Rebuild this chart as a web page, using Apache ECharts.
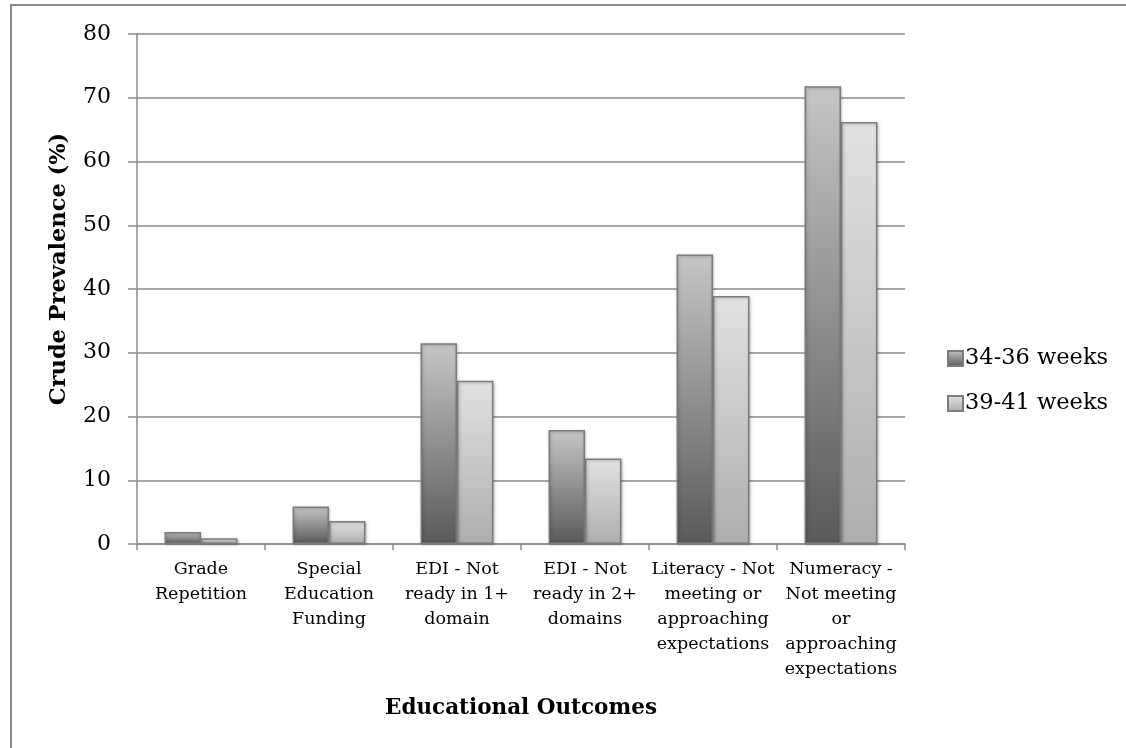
<!DOCTYPE html>
<html>
<head>
<meta charset="utf-8">
<title>Crude Prevalence by Educational Outcome</title>
<script src="https://cdn.jsdelivr.net/npm/echarts@6/dist/echarts.min.js"></script>
<style>
  html, body { margin: 0; padding: 0; background: #ffffff; }
  #chart { width: 1126px; height: 748px; }
</style>
</head>
<body>
<div id="chart"></div>
<script>
// Outcome categories (line breaks as drawn under the axis)
const categories = [
  'Grade\nRepetition',
  'Special\nEducation\nFunding',
  'EDI - Not\nready in 1+\ndomain',
  'EDI - Not\nready in 2+\ndomains',
  'Literacy - Not\nmeeting or\napproaching\nexpectations',
  'Numeracy -\nNot meeting\nor\napproaching\nexpectations'
];

// Crude prevalence (%) per gestational-age group
const seriesNames = ['34-36 weeks', '39-41 weeks'];
const preterm = [1.9, 5.9, 31.5, 17.9, 45.4, 71.8];
const fullTerm = [0.9, 3.6, 25.6, 13.4, 38.9, 66.2];

// Value axis ticks
const yTicks = [0, 10, 20, 30, 40, 50, 60, 70, 80];

const FONT = '"DejaVu Serif", "Liberation Serif", serif';
const GRID_GREY = '#8a8a8a';

function vGradient(top, bottom) {
  return {
    type: 'linear', x: 0, y: 0, x2: 0, y2: 1,
    colorStops: [{ offset: 0, color: top }, { offset: 1, color: bottom }]
  };
}

const chart = echarts.init(document.getElementById('chart'), null, { renderer: 'canvas' });

chart.setOption({
  animation: false,
  backgroundColor: '#ffffff',
  textStyle: { fontFamily: FONT, color: '#000000' },
  graphic: [{
    type: 'rect',
    shape: { x: 11, y: 5, width: 1140, height: 780 },
    style: { fill: 'none', stroke: GRID_GREY, lineWidth: 2 },
    silent: true
  }],
  grid: { left: 137, right: 221, top: 34, bottom: 204, containLabel: false },
  legend: {
    orient: 'vertical',
    left: 942,
    top: 342,
    itemWidth: 15,
    itemHeight: 15,
    itemGap: 22,
    icon: 'rect',
    textStyle: { fontFamily: FONT, fontSize: 22.5, color: '#000000', padding: [0, 0, 0, -3] },
    data: seriesNames
  },
  xAxis: {
    type: 'category',
    data: categories,
    name: 'Educational Outcomes',
    nameLocation: 'middle',
    nameGap: 153,
    nameTextStyle: { fontFamily: FONT, fontSize: 21.5, fontWeight: 'bold', color: '#000000' },
    axisLine: { show: true, lineStyle: { color: GRID_GREY, width: 1.5 } },
    axisTick: { show: true, length: 6, alignWithLabel: false, lineStyle: { color: GRID_GREY, width: 1.5 } },
    axisLabel: {
      interval: 0,
      margin: 13,
      fontFamily: FONT,
      fontSize: 17.5,
      lineHeight: 25,
      color: '#000000',
      align: 'center',
      verticalAlign: 'top'
    }
  },
  yAxis: {
    type: 'value',
    min: yTicks[0],
    max: yTicks[yTicks.length - 1],
    interval: yTicks[1] - yTicks[0],
    name: 'Crude Prevalence (%)',
    nameLocation: 'middle',
    nameGap: 66,
    nameRotate: 90,
    nameTextStyle: {
      fontFamily: FONT, fontSize: 22.5, fontWeight: 'bold', color: '#000000',
      padding: [0, 0, 0, 40]
    },
    axisLine: { show: true, lineStyle: { color: GRID_GREY, width: 1.5 } },
    axisTick: { show: true, length: 9, lineStyle: { color: GRID_GREY, width: 1.5 } },
    axisLabel: { margin: 26, fontFamily: FONT, fontSize: 22, color: '#000000' },
    splitLine: { show: true, lineStyle: { color: GRID_GREY, width: 1.5 } }
  },
  series: [
    {
      name: seriesNames[0],
      type: 'bar',
      data: preterm,
      barWidth: '28.5%',
      barGap: '0%',
      itemStyle: {
        color: vGradient('#c6c6c6', '#595959'),
        borderColor: '#7c7c7c',
        borderWidth: 1.5,
        shadowColor: 'rgba(0,0,0,0.25)',
        shadowBlur: 3,
        shadowOffsetX: 1,
        shadowOffsetY: 1
      }
    },
    {
      name: seriesNames[1],
      type: 'bar',
      data: fullTerm,
      barWidth: '28.5%',
      barGap: '0%',
      itemStyle: {
        color: vGradient('#e2e2e2', '#aeaeae'),
        borderColor: '#7c7c7c',
        borderWidth: 1.5,
        shadowColor: 'rgba(0,0,0,0.25)',
        shadowBlur: 3,
        shadowOffsetX: 1,
        shadowOffsetY: 1
      }
    }
  ]
});
</script>
</body>
</html>
